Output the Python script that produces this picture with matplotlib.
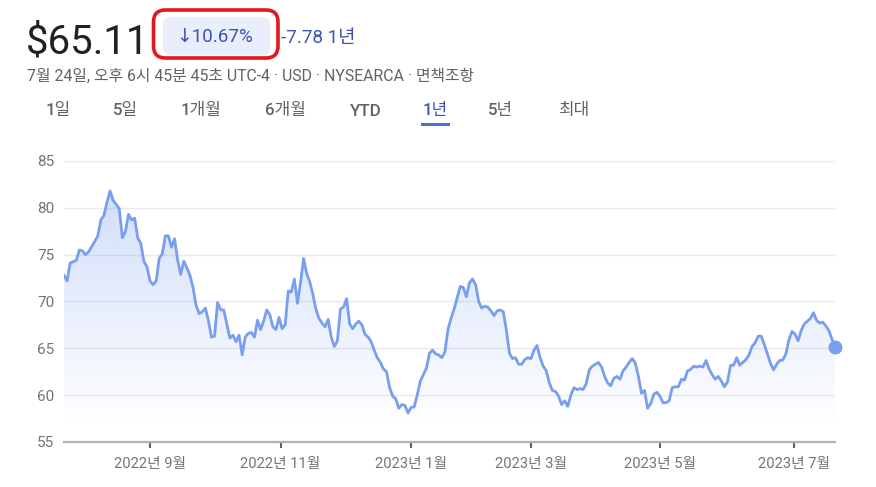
import numpy as np
import matplotlib
matplotlib.use("Agg")
import matplotlib.pyplot as plt
from matplotlib.patches import FancyBboxPatch, Rectangle
from matplotlib.transforms import IdentityTransform
from matplotlib.colors import to_rgb

plt.rcParams["font.family"] = ["Roboto", "Noto Sans CJK KR", "DejaVu Sans"]

# trading-day index (0 = 2022-07-25) and closing price
day = [0, 1, 2, 4, 5, 6, 7, 8, 10, 11, 12, 13, 14, 15, 16, 18, 19, 20, 21, 22, 23, 24, 25, 26, 27,
       28, 29, 30, 31, 32, 33, 34, 35, 36, 37, 38, 39, 40, 41, 42, 43, 44, 45, 46, 47, 48, 49, 50,
       51, 52, 53, 54, 55, 56, 57, 58, 59, 60, 61, 62, 63, 64, 65, 66, 67, 68, 69, 70, 71, 72, 73,
       74, 75, 76, 77, 78, 79, 80, 81, 82, 83, 84, 85, 86, 87, 88, 89, 90, 91, 92, 93, 94, 95, 96,
       97, 98, 99, 100, 101, 102, 103, 104, 105, 106, 107, 108, 109, 110, 111, 112, 113, 114, 115,
       116, 117, 118, 119, 120, 121, 122, 123, 124, 125, 126, 127, 128, 129, 130, 131, 132, 133,
       134, 135, 136, 137, 138, 139, 140, 141, 142, 143, 144, 145, 146, 147, 148, 149, 150, 151,
       152, 153, 154, 155, 156, 157, 158, 159, 160, 161, 162, 163, 164, 165, 166, 167, 168, 169,
       170, 171, 172, 173, 174, 175, 176, 177, 178, 179, 180, 181, 182, 183, 184, 185, 186, 187,
       188, 189, 190, 191, 192, 193, 194, 195, 196, 197, 198, 199, 200, 201, 202, 203, 204, 205,
       206, 207, 208, 209, 210, 211, 212, 213, 214, 215, 216, 217, 218, 219, 220, 221, 222, 223,
       224, 225, 226, 227, 228, 229, 230, 231, 232, 233, 234, 235, 236, 237, 238, 239, 240, 241,
       242, 243, 244, 245, 246, 247, 248, 249, 250, 251]
price = [72.8, 72.2, 74.1, 74.4, 75.5, 75.4, 75.0, 75.3, 76.4, 77.0, 78.7, 79.2, 80.6, 81.8, 80.8,
         79.9, 76.8, 77.5, 79.3, 78.7, 78.9, 76.8, 76.2, 74.3, 73.7, 72.2, 71.8, 72.2, 74.6, 75.1,
         77.0, 77.0, 75.8, 76.7, 74.4, 72.9, 74.3, 73.6, 72.8, 71.5, 69.6, 68.7, 68.9, 69.3, 68.0,
         66.2, 66.3, 69.9, 69.1, 69.1, 67.6, 66.1, 66.4, 65.7, 66.4, 64.3, 66.2, 66.6, 66.7, 66.2,
         68.0, 67.0, 67.9, 69.1, 68.6, 67.3, 67.0, 68.3, 67.1, 67.5, 71.1, 71.0, 72.4, 69.8, 72.0,
         74.6, 73.0, 72.1, 70.8, 69.2, 68.2, 67.7, 67.3, 68.1, 66.2, 65.2, 65.8, 69.2, 69.4, 70.3,
         67.6, 67.1, 67.6, 67.9, 67.5, 66.5, 66.2, 65.7, 64.8, 64.0, 63.5, 62.8, 62.5, 60.8, 59.9,
         59.6, 58.6, 59.0, 58.9, 58.1, 58.7, 58.75, 60.0, 61.5, 62.2, 62.9, 64.5, 64.8, 64.4, 64.3,
         64.0, 64.6, 67.0, 68.2, 69.2, 70.4, 71.6, 71.5, 70.5, 72.0, 72.4, 71.8, 70.0, 69.3, 69.5,
         69.4, 69.0, 68.5, 69.0, 69.1, 68.9, 67.0, 64.5, 63.9, 64.0, 63.3, 63.3, 63.8, 64.0, 63.9,
         64.8, 65.3, 64.0, 63.1, 62.6, 61.3, 60.5, 60.4, 59.9, 59.0, 59.4, 58.8, 60.0, 60.8, 60.6,
         60.7, 60.6, 61.2, 62.7, 63.1, 63.3, 63.5, 63.0, 62.0, 61.3, 61.0, 61.8, 62.0, 61.7, 62.6,
         63.0, 63.5, 63.9, 63.4, 62.0, 60.2, 60.5, 58.6, 59.1, 60.1, 60.3, 59.9, 59.2, 59.2, 59.4,
         60.8, 60.9, 60.9, 61.7, 61.6, 62.6, 62.75, 63.1, 63.0, 63.1, 63.0, 63.7, 62.8, 62.2, 61.7,
         62.0, 61.5, 60.9, 61.4, 63.2, 63.2, 64.0, 63.2, 63.5, 63.8, 64.3, 65.2, 65.6, 66.3, 66.3,
         65.4, 64.4, 63.4, 62.7, 63.3, 63.7, 63.75, 64.4, 65.9, 66.8, 66.5, 65.8, 66.9, 67.6, 67.9,
         68.2, 68.8, 68.0, 67.7, 67.8, 67.4, 66.9, 66.0, 65.11]

x_tick_pos = [28, 70.5, 113, 152, 194, 237.5]
x_tick_labels = ["2022년 9월", "2022년 11월", "2023년 1월", "2023년 3월", "2023년 5월", "2023년 7월"]
y_ticks = [55, 60, 65, 70, 75, 80, 85]

tabs = ["1일", "5일", "1개월", "6개월", "YTD", "1년", "5년", "최대"]
tab_x = [58, 125, 201, 285, 366, 435, 501, 574]
selected_tab = "1년"

LINE, INK, GRAY, BLUE = "#789ef0", "#202124", "#5f6368", "#3f52b5"
W, H = 876, 487

fig = plt.figure(figsize=(W / 100, H / 100), dpi=100)
fig.patch.set_facecolor("white")

def px(x, y):
    return x / W, 1 - y / H

# header
fig.text(*px(26, 53.5), "$65.11", fontsize=29, color=INK, va="baseline", ha="left")
fig.add_artist(FancyBboxPatch((163, H - 55), 107, 38, boxstyle="round,pad=0,rounding_size=8",
                              fc="#e8eefb", ec="none", transform=IdentityTransform()))
fig.add_artist(FancyBboxPatch((153.5, H - 58), 124.5, 48, boxstyle="round,pad=0,rounding_size=12",
                              fc="none", ec="#e4161f", lw=2.6, transform=IdentityTransform()))
fig.text(*px(176, 42.5), "↓10.67%", fontsize=13.5, color=BLUE, va="baseline", ha="left",
         family=["Roboto", "DejaVu Sans"])
fig.text(*px(281, 42.5), "-7.78 1년", fontsize=13.5, color=BLUE, va="baseline", ha="left")
fig.text(*px(27, 80.5), "7월 24일, 오후 6시 45분 45초 UTC-4 · USD · NYSEARCA · 면책조항",
         fontsize=11.4, color=GRAY, va="baseline", ha="left")
for t, x in zip(tabs, tab_x):
    fig.text(*px(x, 115.5), t, fontsize=12.2, color=BLUE if t == selected_tab else GRAY,
             va="baseline", ha="center", fontweight="medium")
fig.add_artist(Rectangle((421, H - 125.5), 29, 3, fc="#4c6fdc", ec="none",
                         transform=IdentityTransform()))

# chart
ax = fig.add_axes([64 / W, (H - 442) / H, (835 - 64) / W, (442 - 161) / H])
ax.set_xlim(0, 251)
ax.set_ylim(55, 85)

rgb = to_rgb(LINE)
lev = np.linspace(55, 85, 300)
grad = np.zeros((300, 1, 4))
grad[..., :3] = rgb
grad[:, 0, 3] = np.clip((lev - 56.5) / (82 - 56.5), 0, 1) * 0.34
im = ax.imshow(grad, extent=[0, 251, 55, 85], origin="lower", aspect="auto", zorder=1,
               interpolation="bilinear")
area = ax.fill_between(day, price, 55, color="none", lw=0)
im.set_clip_path(area.get_paths()[0], transform=ax.transData)

ax.plot(day, price, color=LINE, lw=2.0, zorder=3, solid_joinstyle="round")
ax.plot(day[-1], price[-1], "o", color=LINE, ms=9, zorder=4, clip_on=False)

ax.set_yticks(y_ticks)
ax.set_xticks(x_tick_pos)
ax.set_xticklabels(x_tick_labels)
ax.grid(axis="y", color="#e8eaed", lw=1)
ax.set_axisbelow(True)
for s in ["top", "right", "left"]:
    ax.spines[s].set_visible(False)
ax.spines["bottom"].set_color("#b3b3b3")
ax.spines["bottom"].set_linewidth(1.6)
ax.spines["bottom"].set_zorder(5)
ax.tick_params(axis="y", length=0, pad=7, labelsize=11, labelcolor="#70757a")
ax.tick_params(axis="x", length=4, width=1.5, color="#5f6368", pad=7, labelsize=10.6,
               labelcolor="#70757a")

fig.savefig("out.png", dpi=100, facecolor="white")
